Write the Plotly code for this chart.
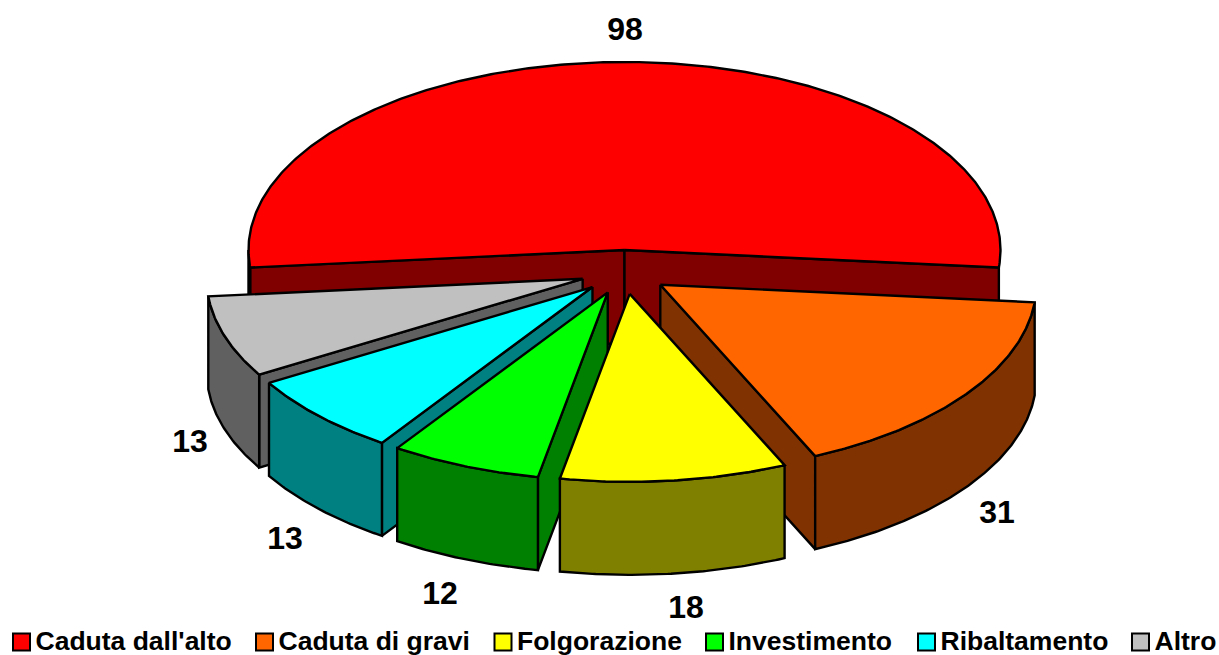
import math
import plotly.graph_objects as go

categories = ["Caduta dall'alto", "Caduta di gravi", "Folgorazione", "Investimento", "Ribaltamento", "Altro"]
values = [98, 31, 18, 12, 13, 13]
top_colors = ["#FF0000", "#FF6600", "#FFFF00", "#00FF00", "#00FFFF", "#C0C0C0"]
side_colors = ["#800000", "#803300", "#808000", "#008000", "#008080", "#606060"]
draw_order = [0, 5, 1, 4, 3, 2]

W, H = 1219, 655
CX, CY, RX, RY, DEPTH, EXPLODE = 624.5, 272, 376, 188, 93, 0.117
LW = 2.4
FONT = "Liberation Sans, Arial, sans-serif"
LABEL_SIZE = 32
LEGEND_SIZE = 26.5
legend_marker_x = [21.5, 264.5, 503, 714.5, 926.5, 1140.5]
LEGEND_Y = 642

total = sum(values)
start = -180 * values[0] / total
wedges = []
a = start
for v in values:
    b = a + 360 * v / total
    wedges.append((a, b))
    a = b


def pt(c, deg, depth=0):
    r = math.radians(deg)
    return c[0] + RX * math.sin(r), c[1] - RY * math.cos(r) + depth


def arc(c, a0, a1, depth=0):
    n = max(2, int(abs(a1 - a0) * 2))
    return [pt(c, a0 + (a1 - a0) * i / n, depth) for i in range(n + 1)]


def poly(points, fill):
    xs = [p[0] for p in points] + [points[0][0]]
    ys = [p[1] for p in points] + [points[0][1]]
    return go.Scatter(x=xs, y=ys, mode="lines", fill="toself", fillcolor=fill,
                      line=dict(color="black", width=LW), hoverinfo="skip", showlegend=False)


fig = go.Figure()
centers = []
for a, b in wedges:
    m = math.radians((a + b) / 2)
    centers.append((CX + EXPLODE * RX * math.sin(m), CY - EXPLODE * RY * math.cos(m)))

for i in draw_order:
    a, b = wedges[i]
    c = centers[i]
    top = arc(c, a, b)
    side = side_colors[i]
    # cut faces that look towards the viewer
    if math.sin(math.radians(a)) < 0:
        p = pt(c, a)
        fig.add_trace(poly([c, p, (p[0], p[1] + DEPTH), (c[0], c[1] + DEPTH)], side))
    if math.sin(math.radians(b)) > 0:
        p = pt(c, b)
        fig.add_trace(poly([c, p, (p[0], p[1] + DEPTH), (c[0], c[1] + DEPTH)], side))
    # outer wall, front half only
    lo, hi = None, None
    for shift in (0, 360):
        l, h = max(a + shift, 90), min(b + shift, 270)
        if l < h:
            lo, hi = l, h
    if lo is not None:
        fig.add_trace(poly(arc(c, lo, hi) + arc(c, hi, lo, DEPTH), side))
    fig.add_trace(poly([c] + top, top_colors[i]))

# data labels
label_pos = [(625, 32), (997, 515), (686, 610), (440, 596), (285, 541), (190, 444)]
fig.add_trace(go.Scatter(x=[p[0] for p in label_pos], y=[p[1] for p in label_pos],
                         mode="text", text=[str(v) for v in values],
                         textposition="middle center",
                         textfont=dict(family=FONT, size=LABEL_SIZE, color="black"),
                         texttemplate="<b>%{text}</b>", hoverinfo="skip", showlegend=False))

# legend row
fig.add_trace(go.Scatter(x=legend_marker_x, y=[LEGEND_Y] * len(categories),
                         mode="markers",
                         marker=dict(symbol="square", size=17, color=top_colors,
                                     line=dict(color="black", width=2)),
                         hoverinfo="skip", showlegend=False, cliponaxis=False))
fig.add_trace(go.Scatter(x=[x + 14 for x in legend_marker_x], y=[LEGEND_Y + 1] * len(categories),
                         mode="text", text=categories, textposition="middle right",
                         textfont=dict(family=FONT, size=LEGEND_SIZE, color="black"),
                         texttemplate="<b>%{text}</b>", hoverinfo="skip", showlegend=False,
                         cliponaxis=False))

fig.update_layout(width=W, height=H, margin=dict(l=0, r=0, t=0, b=0), autosize=False,
                  paper_bgcolor="white", plot_bgcolor="white", showlegend=False,
                  xaxis=dict(range=[0, W], visible=False, fixedrange=True),
                  yaxis=dict(range=[H, 0], visible=False, fixedrange=True))
fig.write_html("out.html", config=dict(displayModeBar=False),
               post_script="document.body.style.margin='0';document.body.style.overflow='hidden';")
